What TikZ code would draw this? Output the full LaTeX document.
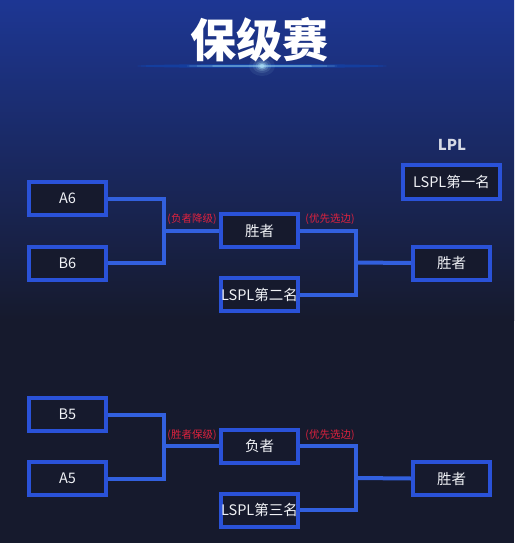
\documentclass[tikz,border=0pt]{standalone}
\usepackage{fontspec}
\setmainfont{Noto Sans CJK SC}
\newfontfamily\cjk{Noto Sans CJK SC}
\definecolor{bgc}{RGB}{22,26,45}
\definecolor{glowin}{RGB}{30,58,160}
\definecolor{glowout}{RGB}{26,40,100}
\definecolor{boxblue}{RGB}{42,82,216}
\definecolor{connblue}{RGB}{50,96,222}
\definecolor{lblred}{RGB}{222,34,62}
\definecolor{txt}{RGB}{240,242,246}
\tikzset{
  team/.style={draw=boxblue, line width=4pt, fill=bgc, minimum width=77pt, minimum height=33pt,
    inner sep=0pt, text=txt, font=\cjk\fontsize{14.5}{15}\selectfont},
  conn/.style={draw=connblue, line width=4pt},
  lbl/.style={text=lblred, font=\cjk\fontsize{10.5}{11}\selectfont, inner sep=0pt},
}
\begin{document}
\begin{tikzpicture}[x=1pt,y=-1pt]
\useasboundingbox (0,0) rectangle (514,543);
\begin{scope}
\clip (0,0) rectangle (514,543);
\fill[bgc] (0,0) rectangle (514,543);
\shade[top color=glowin, middle color=glowout, bottom color=bgc] (0,-40) rectangle (514,320);
% title glow line
\fill[blue!60!cyan, opacity=0.25] (262,66) ellipse [x radius=125, y radius=2];
\fill[cyan!40!white, opacity=0.5] (262,66) ellipse [x radius=75, y radius=1];
\foreach \r/\o in {10/0.08,7/0.12,5/0.2,3.5/0.35,2/0.6}
  \fill[cyan!30!white, opacity=\o] (262,66) ellipse [x radius=\r*1.3, y radius=\r];
\end{scope}
\node (title) at (259,40) {\cjk\bfseries\fontsize{46}{46}\selectfont\color{white}保级赛};
\node[text={rgb,255:red,214;green,218;blue,230}, font=\cjk\bfseries\fontsize{15}{15}\selectfont] (lpl) at (452,145) {LPL};

% top bracket
\node[team] (A6) at (67.5,198.5) {A6};
\node[team] (B6) at (67.5,263) {B6};
\node[team] (w1) at (259.5,230.5) {胜者};
\node[team] (s2) at (259.5,294.5) {LSPL第二名};
\node[team, minimum width=97pt, minimum height=34pt] (s1) at (451.5,182) {LSPL第一名};
\node[team] (f1) at (451.5,263) {胜者};
\coordinate (j1) at (164,230.5);
\coordinate (j2) at (356,262.5);
\draw[conn] (A6.east) -| (j1) |- (B6.east);
\draw[conn] (j1) -- (w1.west);
\draw[conn] (w1.east) -| (j2) |- (s2.east);
\draw[conn] (j2) -- (f1.west);
\node[lbl] (l1) at (192,219) {(负者降级)};
\node[lbl] (l2) at (330,219) {(优先选边)};

% bottom bracket
\node[team] (B5) at (67.5,414.5) {B5};
\node[team] (A5) at (67.5,478.5) {A5};
\node[team] (w2) at (259.5,446) {负者};
\node[team] (s3) at (259.5,510) {LSPL第三名};
\node[team] (f2) at (451.5,478.5) {胜者};
\coordinate (j3) at (164,446);
\coordinate (j4) at (356,478);
\draw[conn] (B5.east) -| (j3) |- (A5.east);
\draw[conn] (j3) -- (w2.west);
\draw[conn] (w2.east) -| (j4) |- (s3.east);
\draw[conn] (j4) -- (f2.west);
\node[lbl] (l3) at (192,435) {(胜者保级)};
\node[lbl] (l4) at (330,435) {(优先选边)};
\end{tikzpicture}
\end{document}
